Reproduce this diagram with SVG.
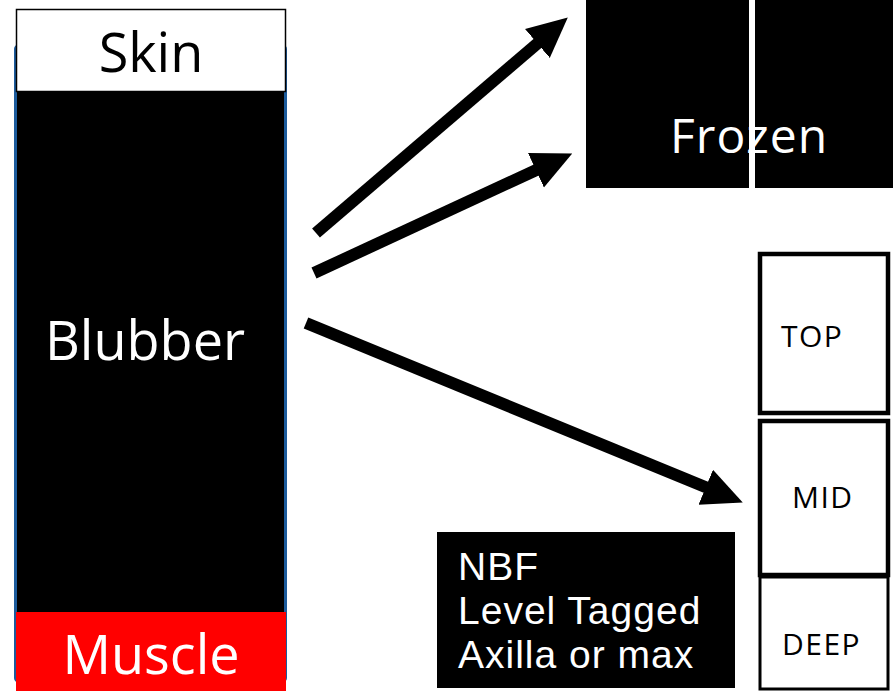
<svg xmlns="http://www.w3.org/2000/svg" width="893" height="691" viewBox="0 0 893 691">
<style>
text{font-family:"Open Sans","DejaVu Sans",sans-serif}
.big{font-size:54px}
.w{fill:#fff}
.k{fill:#000}
.lbl{font-size:30px;fill:#000;letter-spacing:1.5px}
.conn{stroke:#000;stroke-width:12;fill:none;marker-end:url(#ah)}
.layer{fill:#fff;stroke:#000;stroke-width:4.5}
.note{font-family:"Liberation Sans",Arial,sans-serif;font-size:39px;letter-spacing:1px}
</style>
<defs>
<marker id="ah" markerUnits="userSpaceOnUse" markerWidth="40" markerHeight="40" viewBox="0 0 40 40" refX="10" refY="20" orient="auto">
<path d="M0,1 L40,20 L0,39 z" fill="#000"/>
</marker>
</defs>
<rect width="893" height="691" fill="#fff"/>
<g id="column">
<rect x="15.5" y="46" width="270" height="635" rx="3" fill="#000" stroke="#1c5b9c" stroke-width="3"/>
</g>
<g id="skin">
<rect x="16.5" y="9.5" width="269" height="82" fill="#fff" stroke="#000" stroke-width="1.5"/>
<text class="big k" x="151" y="72" text-anchor="middle">Skin</text>
</g>
<g id="blubber">
<text class="big w" x="145" y="360" text-anchor="middle">Blubber</text>
</g>
<g id="muscle">
<rect x="16" y="612" width="270" height="79" fill="#f00"/>
<text class="big w" x="151" y="674" text-anchor="middle">Muscle</text>
</g>
<g id="frozen">
<rect x="586" y="0" width="163" height="188" fill="#000"/>
<rect x="755" y="0" width="138" height="188" fill="#000"/>
<text class="w" x="670" y="153" font-size="48" letter-spacing="1">Frozen</text>
</g>
<g id="top">
<rect class="layer" x="760" y="254" width="128" height="159"/>
<text class="lbl" x="781" y="347">TOP</text>
</g>
<g id="mid">
<rect class="layer" x="760" y="421" width="128" height="154"/>
<text class="lbl" x="792" y="508" letter-spacing="3">MID</text>
</g>
<g id="deep">
<rect x="760" y="577" width="128" height="112" fill="#fff" stroke="#000" stroke-width="3"/>
<text class="lbl" x="782" y="655">DEEP</text>
</g>
<g id="nbf">
<rect x="437" y="532" width="298" height="156" fill="#000"/>
<text class="w note" x="458"><tspan x="458" y="580">NBF</tspan><tspan x="458" y="624">Level Tagged</tspan><tspan x="458" y="668">Axilla or max</tspan></text>
</g>
<g id="connectors">
<line class="conn" x1="316" y1="233" x2="545" y2="37"/>
<line class="conn" x1="314" y1="273" x2="545" y2="166"/>
<line class="conn" x1="306" y1="323" x2="715" y2="491"/>
</g>
</svg>
